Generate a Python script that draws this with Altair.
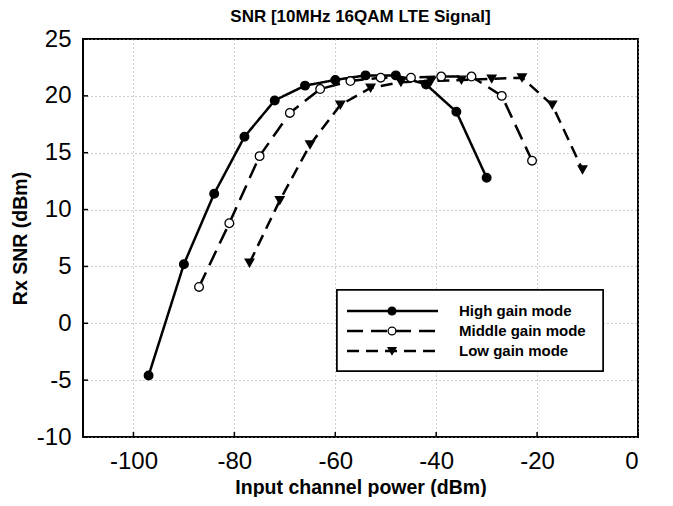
import altair as alt
import pandas as pd

series = ["High gain mode", "Middle gain mode", "Low gain mode"]

x_high = [-97, -90, -84, -78, -72, -66, -60, -54, -48, -42, -36, -30]
y_high = [-4.6, 5.2, 11.4, 16.4, 19.6, 20.9, 21.4, 21.8, 21.8, 21.0, 18.6, 12.8]
x_mid = [-87, -81, -75, -69, -63, -57, -51, -45, -39, -33, -27, -21]
y_mid = [3.2, 8.8, 14.7, 18.5, 20.6, 21.3, 21.6, 21.6, 21.7, 21.7, 20.0, 14.3]
x_low = [-77, -71, -65, -59, -53, -47, -41, -35, -29, -23, -17, -11]
y_low = [5.3, 10.8, 15.7, 19.2, 20.7, 21.2, 21.3, 21.4, 21.5, 21.6, 19.2, 13.5]

x_ticks = [-100, -80, -60, -40, -20, 0]
y_ticks = [-10, -5, 0, 5, 10, 15, 20, 25]

rows = []
for name, xs, ys in [(series[0], x_high, y_high), (series[1], x_mid, y_mid), (series[2], x_low, y_low)]:
    for a, b in zip(xs, ys):
        rows.append({"series": name, "power": a, "snr": b})
df = pd.DataFrame(rows)
leg_df = pd.DataFrame({"series": series})
xt_df = pd.DataFrame({"t": x_ticks})
yt_df = pd.DataFrame({"t": y_ticks})

W, H = 555, 398
FONT = "Liberation Sans"
LBL = "replace(format(datum.value, 'd'), '\u2212', '-')"

xscale = alt.Scale(domain=[-110, 0], nice=False, zero=False)
yscale = alt.Scale(domain=[-10, 25], nice=False, zero=False)
dash_scale = alt.Scale(domain=series, range=[[1, 0], [16, 8], [12, 7]])
shape_scale = alt.Scale(domain=series, range=["circle", "circle", "triangle-down"])
fill_scale = alt.Scale(domain=series, range=["black", "white", "black"])

x_enc = alt.X("power:Q", scale=xscale,
              axis=alt.Axis(values=x_ticks, title="Input channel power (dBm)", labelExpr=LBL))
y_enc = alt.Y("snr:Q", scale=yscale,
              axis=alt.Axis(values=y_ticks, title="Rx SNR (dBm)", labelExpr=LBL))

lines = alt.Chart(df).mark_line(color="black", strokeWidth=2.5).encode(
    x=x_enc, y=y_enc,
    strokeDash=alt.StrokeDash("series:N", scale=dash_scale, legend=None),
    detail="series:N",
)
points = alt.Chart(df).mark_point(filled=False, stroke="black", strokeWidth=1.3, size=75, opacity=1).encode(
    x=alt.X("power:Q", scale=xscale),
    y=alt.Y("snr:Q", scale=yscale),
    shape=alt.Shape("series:N", scale=shape_scale, legend=None),
    fill=alt.Fill("series:N", scale=fill_scale, legend=None),
)
xticks = alt.Chart(xt_df).mark_rule(color="black", strokeWidth=1.5).encode(
    x=alt.X("t:Q", scale=xscale), y=alt.value(H - 5), y2=alt.value(H)
)
yticks = alt.Chart(yt_df).mark_rule(color="black", strokeWidth=1.5).encode(
    y=alt.Y("t:Q", scale=yscale), x=alt.value(0), x2=alt.value(5)
)
main = alt.layer(lines, points, xticks, yticks)

# point scale with default outer padding 0.5 -> rows at 272, 292, 312
leg_y = alt.Y("series:N", scale=alt.Scale(domain=series, range=[262, 322]), axis=None)
box = alt.Chart(leg_df).mark_rect(fill="white", stroke="black", strokeWidth=1.5).encode(
    x=alt.value(254), x2=alt.value(520), y=alt.value(251), y2=alt.value(332)
)
leg_lines = alt.Chart(leg_df).mark_rule(color="black", strokeWidth=2.5).encode(
    x=alt.value(264), x2=alt.value(355), y=leg_y,
    strokeDash=alt.StrokeDash("series:N", scale=dash_scale, legend=None),
)
leg_pts = alt.Chart(leg_df).mark_point(stroke="black", strokeWidth=1.3, size=60, opacity=1).encode(
    x=alt.value(309), y=leg_y,
    shape=alt.Shape("series:N", scale=shape_scale, legend=None),
    fill=alt.Fill("series:N", scale=fill_scale, legend=None),
)
leg_text = alt.Chart(leg_df).mark_text(align="left", baseline="middle", font=FONT,
                                        fontSize=15, fontWeight="bold", color="black").encode(
    x=alt.value(376), y=leg_y, text="series:N"
)
legend = alt.layer(box, leg_lines, leg_pts, leg_text)

chart = alt.layer(main, legend).resolve_scale(y="independent").properties(
    width=W, height=H,
    title=alt.TitleParams("SNR [10MHz 16QAM LTE Signal]", font=FONT, fontSize=17,
                          fontWeight="bold", color="black", offset=1),
    padding={"left": 2, "top": 0, "right": 5, "bottom": 0},
).configure_view(stroke="black", strokeWidth=2).configure_axis(
    domain=False, ticks=False, grid=True, gridColor="#9a9a9a", gridDash=[1, 3], gridWidth=1,
    labelFont=FONT, labelFontSize=24, labelColor="black",
    titleFont=FONT, titleFontSize=19.5, titleFontWeight="bold", titleColor="black",
).configure_axisY(titlePadding=6, labelPadding=12).configure_axisX(titlePadding=5, labelPadding=12)

chart.save("out.html", embed_options={"renderer": "svg", "actions": False})
